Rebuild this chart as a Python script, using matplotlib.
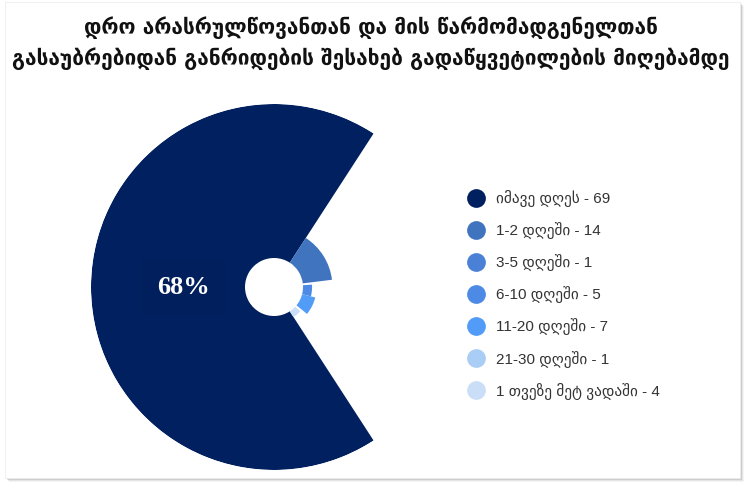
import matplotlib.pyplot as plt
import matplotlib.patches as mpatches
from matplotlib.lines import Line2D
import numpy as np

# data
labels = ["იმავე დღეს", "1-2 დღეში", "3-5 დღეში", "6-10 დღეში",
          "11-20 დღეში", "21-30 დღეში", "1 თვეზე მეტ ვადაში"]
values = [69, 14, 1, 5, 7, 1, 4]
colors = ["#002060", "#4174be", "#4a80d6", "#4c8ae6",
          "#529cf7", "#a9cdf4", "#cadff7"]
title = ("დრო არასრულწოვანთან და მის წარმომადგენელთან\n"
         "გასაუბრებიდან განრიდების შესახებ გადაწყვეტილების მიღებამდე")

W, H = 747, 483
fig = plt.figure(figsize=(W / 100, H / 100), dpi=100)
fig.patch.set_facecolor("white")

# card + shadow
for i, a in enumerate([0.06, 0.1, 0.16, 0.22]):
    off = 4 - i
    fig.patches.append(mpatches.Rectangle(
        ((5 + off) / W, (H - 478 - off) / H), 735 / W, 476 / H,
        transform=fig.transFigure, facecolor="#555555", alpha=a,
        edgecolor="none", zorder=0))
fig.patches.append(mpatches.Rectangle(
    (5 / W, (H - 478) / H), 735 / W, 476 / H, transform=fig.transFigure,
    facecolor="white", edgecolor="#eeeeee", linewidth=0.6, zorder=1))

fig.text(371 / W, 1 - 43 / H, title, ha="center", va="center",
         fontsize=15, fontweight="bold", color="#111111",
         family=["DejaVu Sans"], linespacing=1.5, zorder=5)

# rose chart
cx, cy, R, r0 = 274, 287, 183, 29
ax = fig.add_axes([(cx - R) / W, (H - cy - R) / H, 2 * R / W, 2 * R / H],
                  projection="polar")
ax.set_zorder(3)
total = sum(values)
vals = np.array(values, dtype=float)
widths = vals / total * 2 * np.pi
starts = np.concatenate([[0], np.cumsum(widths)[:-1]])
inner = r0 / R
radii = inner + (1 - inner) * (vals - vals.min()) / (vals.max() - vals.min())

ax.set_theta_direction(-1)
ax.set_theta_offset(np.pi + widths[0] / 2)
ax.bar(starts, radii - inner, width=widths, bottom=inner, align="edge",
       color=colors, edgecolor="none")
ax.set_ylim(0, 1)
ax.set_axis_off()
ax.patch.set_alpha(0)

pct = round(values[0] / total * 100)
ax.text(starts[0] + widths[0] / 2, 91 / R, f"{pct}%", ha="center",
        va="center", color="white", fontsize=19, fontweight="bold",
        family="Liberation Serif",
        bbox=dict(boxstyle="square,pad=0.6", facecolor="#011f5d",
                  edgecolor="none"))

# legend
handles = [Line2D([0], [0], marker="o", linestyle="none", markersize=13.5,
                  markerfacecolor=c, markeredgecolor="none") for c in colors]
leg_labels = [f"{l} - {v}" for l, v in zip(labels, values)]
leg = fig.legend(handles, leg_labels, loc="upper left",
                 bbox_to_anchor=(462 / W, 1 - 184 / H), frameon=False,
                 labelspacing=0.99, handlelength=1.0, handletextpad=0.8,
                 borderaxespad=0, prop={"family": ["Liberation Sans", "DejaVu Sans"],
                                        "size": 11})
for t in leg.get_texts():
    t.set_color("#333333")
leg.set_zorder(5)

fig.savefig("out.png", dpi=100)
